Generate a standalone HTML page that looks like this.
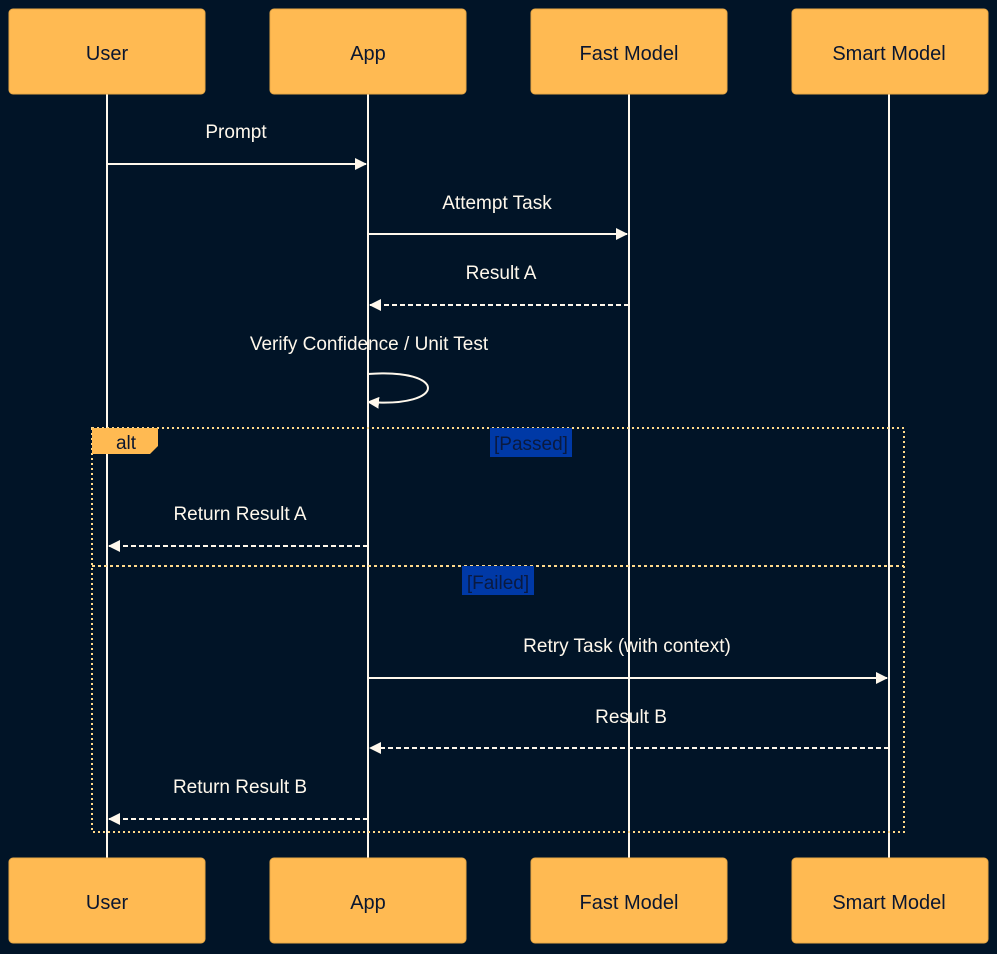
<!DOCTYPE html>
<html><head><meta charset="utf-8"><style>
html,body{margin:0;padding:0;background:#011427;}
svg{display:block;}
text{font-family:"Liberation Sans",sans-serif;}
</style></head><body>
<svg width="997" height="954" viewBox="0 0 997 954" xmlns="http://www.w3.org/2000/svg">
<rect width="997" height="954" fill="#011427"/>
<defs>
<marker id="ah" markerWidth="12" markerHeight="12" refX="11" refY="6" orient="auto" markerUnits="userSpaceOnUse">
<path d="M0,0 L12,6 L0,12 z" fill="#FFF8EC"/>
</marker>
</defs>
<g stroke="#FFF8EC" stroke-width="2">
<line x1="107" y1="94" x2="107" y2="858"/>
<line x1="368" y1="94" x2="368" y2="858"/>
<line x1="629" y1="94" x2="629" y2="858"/>
<line x1="889" y1="94" x2="889" y2="858"/>
</g>
<g fill="#FFBA52" stroke="#E8A845" stroke-width="1">
<rect x="9" y="9" width="196" height="85" rx="4"/>
<rect x="270" y="9" width="196" height="85" rx="4"/>
<rect x="531" y="9" width="196" height="85" rx="4"/>
<rect x="792" y="9" width="196" height="85" rx="4"/>
<rect x="9" y="858" width="196" height="85" rx="4"/>
<rect x="270" y="858" width="196" height="85" rx="4"/>
<rect x="531" y="858" width="196" height="85" rx="4"/>
<rect x="792" y="858" width="196" height="85" rx="4"/>
</g>
<g fill="#0A1630" font-size="20" font-weight="500" text-anchor="middle">
<text x="107" y="60">User</text><text x="368" y="60">App</text><text x="629" y="60">Fast Model</text><text x="889" y="60">Smart Model</text>
<text x="107" y="909">User</text><text x="368" y="909">App</text><text x="629" y="909">Fast Model</text><text x="889" y="909">Smart Model</text>
</g>
<g stroke="#FFF8EC" stroke-width="2" fill="none">
<line x1="107" y1="164" x2="366" y2="164" marker-end="url(#ah)"/>
<line x1="368" y1="234" x2="627" y2="234" marker-end="url(#ah)"/>
<line x1="629" y1="305" x2="370" y2="305" stroke-dasharray="5,3" marker-end="url(#ah)"/>
<path d="M368,374 C448,368 448,408 368,402" marker-end="url(#ah)"/>
<line x1="368" y1="546" x2="109" y2="546" stroke-dasharray="5,3" marker-end="url(#ah)"/>
<line x1="368" y1="678" x2="887" y2="678" marker-end="url(#ah)"/>
<line x1="889" y1="748" x2="370" y2="748" stroke-dasharray="5,3" marker-end="url(#ah)"/>
<line x1="368" y1="819" x2="109" y2="819" stroke-dasharray="5,3" marker-end="url(#ah)"/>
</g>
<g fill="#FFF8EC" font-size="19" font-weight="500" text-anchor="middle">
<text x="236" y="138">Prompt</text>
<text x="497" y="209">Attempt Task</text>
<text x="501" y="279">Result A</text>
<text x="369" y="350">Verify Confidence / Unit Test</text>
<text x="240" y="520">Return Result A</text>
<text x="627" y="652">Retry Task (with context)</text>
<text x="631" y="723">Result B</text>
<text x="240" y="793">Return Result B</text>
</g>
<rect x="92" y="428" width="812" height="404" fill="none" stroke="#FFD98A" stroke-width="2" stroke-dasharray="2,3"/>
<line x1="92" y1="566" x2="904" y2="566" stroke="#FFD98A" stroke-width="2" stroke-dasharray="3,3"/>
<path d="M92,428 L158,428 L158,446 L150,454 L92,454 z" fill="#FFBA52"/>
<text x="126" y="449" font-size="19" fill="#0A1630" text-anchor="middle">alt</text>
<rect x="490" y="428" width="82" height="29" fill="#0039A6"/>
<text x="531" y="450" font-size="19" fill="#0A1A40" text-anchor="middle">[Passed]</text>
<rect x="462" y="566" width="72" height="29" fill="#0039A6"/>
<text x="498" y="589" font-size="19" fill="#0A1A40" text-anchor="middle">[Failed]</text>
</svg>
</body></html>
